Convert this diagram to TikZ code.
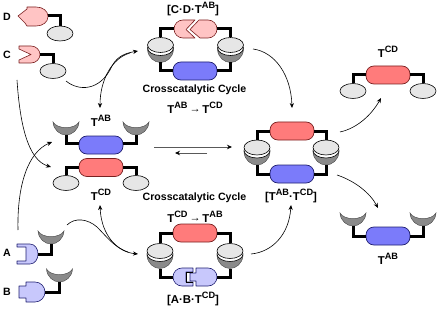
\documentclass[tikz,border=0pt]{standalone}
\usepackage{fontspec}
\setmainfont{Liberation Sans}
\usetikzlibrary{shapes.geometric,arrows.meta}
\definecolor{pillblue}{HTML}{7B7BFA}
\definecolor{pillred}{HTML}{FF7B7B}
\definecolor{paleblue}{HTML}{C8C8FC}
\definecolor{palepink}{HTML}{FFC4C4}
\definecolor{discgrey}{HTML}{E6E6E6}
\definecolor{cupgrey}{HTML}{8A8A8A}
\definecolor{edgeblue}{HTML}{1E1E70}
\definecolor{edgered}{HTML}{7A2020}
\newcommand{\Tmpl}[1]{T\raisebox{.42em}{\fontsize{9.2}{10}\selectfont #1}}
\newcommand{\Yields}{\raisebox{.06em}{\fontsize{11}{12}\selectfont→}}
\tikzset{
  pillshape/.style={draw,rectangle,rounded corners=8pt,minimum width=44pt,minimum height=18pt,inner sep=0pt,line width=.7pt},
  bluepill/.style={pillshape,fill=pillblue,draw=edgeblue},
  redpill/.style={pillshape,fill=pillred,draw=edgered},
  disc/.style={draw=black,ellipse,fill=discgrey,minimum width=26pt,minimum height=15pt,inner sep=0pt,line width=.6pt},
  spacer/.style={disc,fill=white},
  linker/.style={draw=black,line width=3pt,miter limit=10},
  flow/.style={draw=black,line width=.6pt,-{Stealth[length=5pt,width=4.2pt]}},
  reaction/.style={draw=black!65,line width=.8pt,-{Stealth[length=5pt,width=4.5pt,color=black]}},
  label/.style={font=\fontsize{10.6}{12}\selectfont\bfseries,inner sep=0pt},
  title/.style={font=\fontsize{11.4}{13}\selectfont\bfseries,inner sep=0pt},
  cupshape/.pic={
    \path[draw=black!70,line width=.45pt,fill=cupgrey]
      (-13,0) .. controls (-9,7.5) and (9,7.5) .. (13,0)
      .. controls (12.5,8) and (6,13) .. (0,13)
      .. controls (-6,13) and (-12.5,8) .. (-13,0) -- cycle;
    \coordinate (-stem) at (0,13);
  },
  pinkpart/.style={draw=edgered,fill=palepink,line width=.6pt,line join=round},
  bluepart/.style={draw=edgeblue,fill=paleblue,line width=.6pt,line join=round},
}
\begin{document}
\begin{tikzpicture}[x=1pt,y=-1pt]
\useasboundingbox (0,0) rectangle (444,310);

% free reagents C and D
\node[disc] (dD) at (60,33.5) {};
\path[pinkpart] (18,16) -- (27,9) -- (27,7) -- (36,7) .. controls (43,7) and (48,11) .. (48,16.5)
  .. controls (48,22) and (43,26) .. (36,26) -- (27,26) -- (25,23) -- cycle;
\coordinate (dbody) at (48,16);
\draw[linker] (dbody) -| (dD.north);
\node[label] (lD) at (7,17) {D};

\node[disc] (dC) at (53,71) {};
\path[pinkpart] (19,46) -- (31,46) .. controls (36,46) and (40,50) .. (40,54.5)
  .. controls (40,59) and (36,63) .. (31,63) -- (19,63) -- (19,60) -- (31,54.5) -- (19,49) -- cycle;
\coordinate (cbody) at (40,55);
\draw[linker] (cbody) -| (dC.north);
\node[label] (lC) at (7,55) {C};

% free reagents A and B
\pic (cA) at (51,231) {cupshape};
\path[bluepart] (17,244) -- (30,244) .. controls (35,244) and (38,249) .. (38,254)
  .. controls (38,259) and (35,264) .. (30,264) -- (17,264) -- (17,261) -- (26,261)
  -- (26,247) -- (17,247) -- cycle;
\coordinate (abody) at (38,254);
\draw[linker] (abody) -| (cA-stem);
\node[label] (lA) at (7,253) {A};

\pic (cB) at (59.5,269) {cupshape};
\path[bluepart] (19,286) -- (26,286) -- (26,282) -- (35,282) .. controls (41,282) and (45,287) .. (45,292)
  .. controls (45,297) and (41,302) .. (35,302) -- (26,302) -- (26,298) -- (19,298) -- cycle;
\coordinate (bbody) at (45,292);
\draw[linker] (bbody) -| (cB-stem);
\node[label] (lB) at (7,292) {B};

% template pair, left
\pic (tl) at (66,122) {cupshape};
\pic (tr) at (136,122) {cupshape};
\node[bluepill] (pAB) at (101,145) {};
\draw[linker] ([yshift=2pt]pAB.west) -| (tl-stem);
\draw[linker] ([yshift=2pt]pAB.east) -| (tr-stem);
\node[title] (tAB) at (101,121) {\Tmpl{AB}};

\node[redpill] (pCD) at (101,167.5) {};
\node[disc] (cl) at (66,183) {};
\node[disc] (cr) at (136,183) {};
\draw[linker] (pCD.west) -| (cl.north);
\draw[linker] (pCD.east) -| (cr.north);
\node[title] (tCD) at (101,195) {\Tmpl{CD}};

% upper ternary complex
\pic (u1) at (160.5,49.5) {cupshape};
\node[spacer] at (160.5,48) {};
\node[disc] (ud1) at (160.5,45) {};
\pic (u2) at (230.5,49.5) {cupshape};
\node[spacer] at (230.5,48) {};
\node[disc] (ud2) at (230.5,45) {};
\path[pinkpart] (183,20) -- (195,20) -- (186,29.5) -- (195,38) -- (183,38)
  .. controls (178,38) and (174,34) .. (174,29)
  .. controls (174,24) and (178,20) .. (183,20) -- cycle;
\path[pinkpart] (199,20) -- (208,20) .. controls (213,20) and (217,24) .. (217,29)
  .. controls (217,34) and (213,38) .. (208,38) -- (200,38) -- (190,29.5) -- cycle;
\coordinate (uleft) at (174,29);
\coordinate (uright) at (217,29);
\draw[linker] (uleft) -| (ud1.north);
\draw[linker] (uright) -| (ud2.north);
\node[bluepill] (ub) at (195,71) {};
\draw[linker] (ub.west) -| (u1-stem);
\draw[linker] (ub.east) -| (u2-stem);
\node[title] (ulabel) at (193,9) {[C·D·\Tmpl{AB}]};
\node[label] (ucycle) at (194.5,90) {Crosscatalytic Cycle};
\node[title] (uconv) at (195,108) {\Tmpl{AB}\,\Yields\,\Tmpl{CD}};

% lower ternary complex
\pic (l1) at (160,255.5) {cupshape};
\node[spacer] at (160,254) {};
\node[disc] (ld1) at (160,251) {};
\pic (l2) at (230,255.5) {cupshape};
\node[spacer] at (230,254) {};
\node[disc] (ld2) at (230,251) {};
\node[redpill] (lr) at (195,233) {};
\draw[linker] (lr.west) -| (ld1.north);
\draw[linker] (lr.east) -| (ld2.north);
\path[bluepart] (182,268) -- (193,268) -- (193,272) -- (186,272) -- (186,282) -- (193,282) -- (193,286) -- (182,286)
  .. controls (177,286) and (173,282) .. (173,277)
  .. controls (173,272) and (177,268) .. (182,268) -- cycle;
\path[bluepart] (196,268) -- (208,268) .. controls (213,268) and (217,272) .. (217,277)
  .. controls (217,282) and (213,286) .. (208,286) -- (196,286) -- (196,281) -- (190,281) -- (190,273) -- (196,273) -- cycle;
\draw[black,line width=1pt] (193,272) -- (186,272) -- (186,282) -- (193,282);
\coordinate (lleft) at (173,277);
\coordinate (lright) at (217,277);
\draw[linker] (lleft) -| (l1-stem);
\draw[linker] (lright) -| (l2-stem);
\node[title] (llabel) at (193,299) {[A·B·\Tmpl{CD}]};
\node[label] (lcycle) at (194.5,198) {Crosscatalytic Cycle};
\node[title] (lconv) at (195,217) {\Tmpl{CD}\,\Yields\,\Tmpl{AB}};

% duplex
\pic (m1) at (257,152) {cupshape};
\node[spacer] at (257,150.5) {};
\node[disc] (md1) at (257,147.5) {};
\pic (m2) at (326,152) {cupshape};
\node[spacer] at (326,150.5) {};
\node[disc] (md2) at (326,147.5) {};
\node[redpill] (mr) at (292,131) {};
\node[bluepill] (mb) at (292,174) {};
\draw[linker] (mr.west) -| (md1.north);
\draw[linker] (mr.east) -| (md2.north);
\draw[linker] (mb.west) -| (m1-stem);
\draw[linker] (mb.east) -| (m2-stem);
\node[title] (mlabel) at (291,196) {[\Tmpl{AB}·\Tmpl{CD}]};

% released templates, right
\node[redpill] (rr) at (388,75) {};
\node[disc] (rrl) at (353,91) {};
\node[disc] (rrr) at (423,91) {};
\draw[linker] (rr.west) -| (rrl.north);
\draw[linker] (rr.east) -| (rrr.north);
\node[title] (trCD) at (388,52) {\Tmpl{CD}};

\pic (rcl) at (353,213) {cupshape};
\pic (rcr) at (423,213) {cupshape};
\node[bluepill] (rb) at (388,236) {};
\draw[linker] (rb.west) -| (rcl-stem);
\draw[linker] (rb.east) -| (rcr-stem);
\node[title] (trAB) at (388,259) {\Tmpl{AB}};

% equilibrium between the template pair and the duplex
\coordinate (eqa) at (154,147);
\coordinate (eqb) at (232,147);
\coordinate (eqc) at (207,153);
\coordinate (eqd) at (175,153);
\draw[reaction] (eqa) -- (eqb);
\draw[reaction] (eqc) -- (eqd);

% reaction pathways
\draw[flow] (66,81) .. controls (78,91) and (100,92) .. (112,66)
  .. controls (118,55) and (127,53) .. (138,51);
\draw[flow] (130,53) .. controls (112,58) and (100,80) .. (100,108);
\draw[flow] (17,80) .. controls (20,125) and (28,160) .. (51,167);
\draw[flow] (18,230) .. controls (17,185) and (28,152) .. (52,142);
\draw[flow] (67,225) .. controls (75,217) and (88,219) .. (97,227)
  .. controls (108,238) and (118,252) .. (138,254);
\draw[flow] (128,252) .. controls (112,247) and (101,230) .. (100,205);
\draw[flow] (253,49) .. controls (275,52) and (291,75) .. (292,108);
\draw[flow] (340,132) .. controls (358,128) and (372,114) .. (381,98);
\draw[flow] (337,175) .. controls (355,181) and (370,193) .. (378,208);
\draw[flow] (251,254) .. controls (272,252) and (289,235) .. (291,205);
\end{tikzpicture}
\end{document}
